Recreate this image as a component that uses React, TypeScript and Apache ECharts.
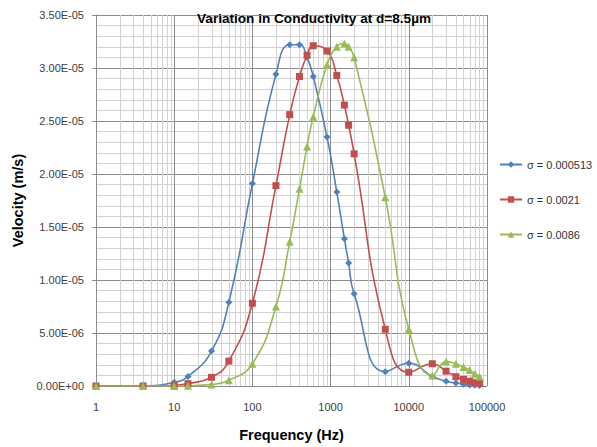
import React, { useEffect, useRef } from "react";
import * as echarts from "echarts";

// Frequencies (Hz) sampled by each series
const frequencies = [1, 4, 10, 15, 30, 50, 100, 200, 300, 400, 500, 600, 900, 1200, 1500, 1700, 2000, 5000, 10000, 20000, 30000, 40000, 50000, 60000, 70000, 80000];

// Velocities in units of 1e-6 m/s
const sigma000513 = [0, 0.02, 0.35, 0.9, 3.3, 7.9, 19.1, 29.4, 32.2, 32.2, 31.0, 29.2, 23.5, 18.3, 13.9, 11.6, 8.7, 1.35, 2.14, 0.9, 0.45, 0.28, 0.17, 0.1, 0.06, 0.04];
const sigma0021 = [0, 0, 0.05, 0.22, 0.82, 2.35, 7.8, 18.9, 25.6, 29.2, 31.2, 32.1, 31.6, 29.3, 26.5, 24.6, 21.9, 5.35, 1.3, 2.1, 1.4, 0.88, 0.63, 0.45, 0.32, 0.25];
const sigma0086 = [0, 0, 0, 0.02, 0.15, 0.55, 2.1, 7.5, 13.6, 18.6, 22.6, 25.4, 30.3, 32.0, 32.3, 32.0, 31.0, 17.8, 5.35, 1.0, 2.3, 2.1, 1.8, 1.5, 1.15, 0.9];

const seriesNames = ["σ = 0.000513", "σ = 0.0021", "σ = 0.0086"];
const xTickLabels = ["1", "10", "100", "1000", "10000", "100000"];
const minorMultipliers = [2, 3, 4, 5, 6, 7, 8, 9];
const decades = [1, 10, 100, 1000, 10000];

const Y_MAX = 3.5e-5;
const FONT = "'Liberation Sans', Arial, sans-serif";

function fmtY(v: number): string {
  if (v === 0) return "0.00E+00";
  const s = v.toExponential(2); // e.g. 3.50e-5
  const [m, e] = s.split("e");
  const n = parseInt(e, 10);
  const sign = n < 0 ? "-" : "+";
  const abs = Math.abs(n);
  return m + "E" + sign + (abs < 10 ? "0" + abs : String(abs));
}

export default function App() {
  const ref = useRef<HTMLDivElement>(null);
  useEffect(() => {
    document.body.style.margin = "0";
    if (!ref.current) return;
    const chart = echarts.init(ref.current, undefined, { renderer: "svg" });
    const toPairs = (vals: number[]) => frequencies.map((f, i) => [f, vals[i] * 1e-6]);
    const minorFreqs: number[][] = [];
    decades.forEach((d) => minorMultipliers.forEach((m) => minorFreqs.push([d * m, 0])));
    const colors = ["#4F81BD", "#C0504D", "#9BBB59"];
    const symbols = ["diamond", "rect", "triangle"];
    const sizes = [7, 7, 8];
    const datas = [sigma000513, sigma0021, sigma0086];
    chart.setOption({
      animation: false,
      title: {
        text: "Variation in Conductivity at d=8.5µm",
        left: 192,
        top: 6,
        textStyle: { fontFamily: FONT, fontSize: 13.6, fontWeight: "bold", color: "#000" },
      },
      legend: {
        orient: "vertical",
        left: 494,
        top: 154,
        itemWidth: 22,
        itemHeight: 8,
        itemGap: 24,
        data: seriesNames,
        textStyle: { fontFamily: FONT, fontSize: 11, color: "#333" },
      },
      grid: { left: 96, right: 110, top: 15, bottom: 61 },
      xAxis: {
        type: "log",
        logBase: 10,
        min: 1,
        max: 100000,
        splitNumber: 5,
        name: "Frequency (Hz)",
        nameLocation: "middle",
        nameGap: 41,
        nameTextStyle: { fontFamily: FONT, fontSize: 14.5, fontWeight: "bold", color: "#000" },
        axisLine: { show: true, lineStyle: { color: "#8c8c8c" } },
        axisTick: { show: false },
        axisLabel: {
          fontFamily: FONT,
          fontSize: 11,
          color: "#404040",
          margin: 15,
          formatter: (v: number) => xTickLabels[Math.round(Math.log10(v))] ?? "",
        },
        splitLine: { show: true, lineStyle: { color: "#8c8c8c" } },
      },
      yAxis: {
        type: "value",
        min: 0,
        max: Y_MAX,
        interval: 5e-6,
        name: "Velocity (m/s)",
        nameLocation: "middle",
        nameGap: 71,
        nameTextStyle: { fontFamily: FONT, fontSize: 14.5, fontWeight: "bold", color: "#000" },
        axisLine: { show: true, lineStyle: { color: "#8c8c8c" } },
        axisTick: { show: true, length: 4, lineStyle: { color: "#8c8c8c" } },
        axisLabel: { fontFamily: FONT, fontSize: 11, color: "#404040", margin: 12, formatter: fmtY },
        splitLine: { show: true, lineStyle: { color: "#8c8c8c" } },
        minorTick: { show: false, splitNumber: 5 },
        minorSplitLine: { show: true, lineStyle: { color: "#d2d2d2" } },
      },
      series: [
        {
          type: "custom",
          name: "minor",
          silent: true,
          z: 1,
          data: minorFreqs,
          encode: { x: 0, y: 1 },
          renderItem: (_p: any, api: any) => {
            const v = api.value(0);
            const a = api.coord([v, 0]);
            const b = api.coord([v, Y_MAX]);
            const x = Math.round(a[0]) + 0.5;
            return {
              type: "line",
              shape: { x1: x, y1: a[1], x2: x, y2: b[1] },
              style: { stroke: "#d2d2d2", lineWidth: 1 },
              silent: true,
            };
          },
        },
        ...datas.map((d, i) => ({
          type: "line",
          name: seriesNames[i],
          data: toPairs(d),
          smooth: 0.5,
          z: 3,
          symbol: symbols[i],
          symbolSize: sizes[i],
          showAllSymbol: true,
          itemStyle: { color: colors[i] },
          lineStyle: { color: colors[i], width: 1.6 },
        })),
      ],
    });
    return () => chart.dispose();
  }, []);
  return <div ref={ref} style={{ position: "absolute", left: 0, top: 0, width: 597, height: 447 }} />;
}
